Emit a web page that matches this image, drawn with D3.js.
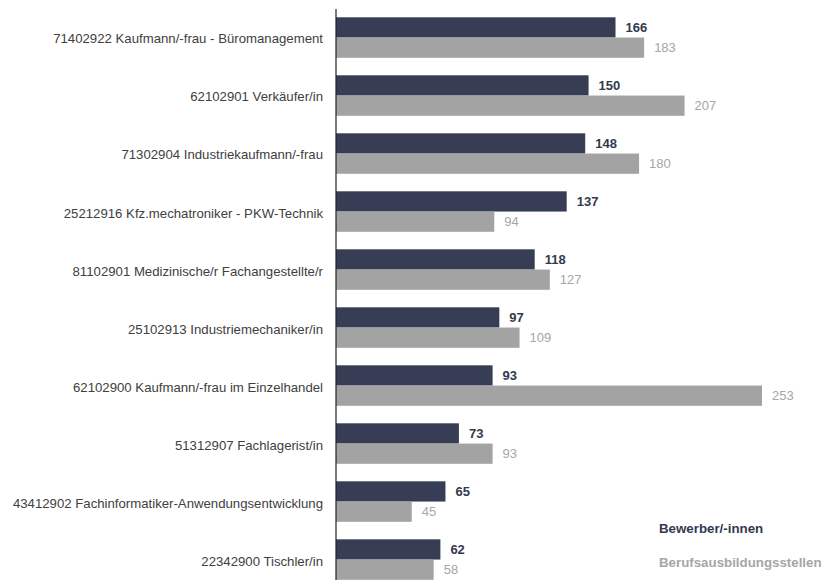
<!DOCTYPE html>
<html>
<head>
<meta charset="utf-8">
<script src="https://cdn.jsdelivr.net/npm/d3@7"></script>
<style>
  html, body { margin: 0; padding: 0; background: #fff; }
  svg { display: block; font-family: "Liberation Sans", Arial, sans-serif; }
</style>
</head>
<body>
<svg id="chart"></svg>
<script>
// DATA
const categories = [
  "71402922 Kaufmann/-frau - Büromanagement",
  "62102901 Verkäufer/in",
  "71302904 Industriekaufmann/-frau",
  "25212916 Kfz.mechatroniker - PKW-Technik",
  "81102901 Medizinische/r Fachangestellte/r",
  "25102913 Industriemechaniker/in",
  "62102900 Kaufmann/-frau im Einzelhandel",
  "51312907 Fachlagerist/in",
  "43412902 Fachinformatiker-Anwendungsentwicklung",
  "22342900 Tischler/in"
];
const bewerber = [166, 150, 148, 137, 118, 97, 93, 73, 65, 62];
const stellen = [183, 207, 180, 94, 127, 109, 253, 93, 45, 58];
const seriesNames = ["Bewerber/-innen", "Berufsausbildungsstellen"];

const width = 825, height = 580;
const darkColor = "#363d54";
const grayColor = "#a3a3a3";
const darkText = "#333a4f";
const grayText = "#a6a6a6";

const svg = d3.select("#chart").attr("width", width).attr("height", height);

const x = d3.scaleLinear().domain([0, 253]).range([336, 762]);

const y = d3.scaleBand()
  .domain(categories)
  .range([8.6, 588.5])
  .paddingInner(0.302)
  .paddingOuter(0.15);

const half = y.bandwidth() / 2;

const rows = categories.map((c, i) => ({ cat: c, a: bewerber[i], b: stellen[i] }));

const g = svg.append("g");

// Bewerber bars
g.selectAll(".bar-a")
  .data(rows)
  .enter()
  .append("rect")
  .attr("class", "bar-a")
  .attr("x", x(0))
  .attr("y", d => y(d.cat))
  .attr("width", d => x(d.a) - x(0))
  .attr("height", half)
  .attr("fill", darkColor);

// Stellen bars
g.selectAll(".bar-b")
  .data(rows)
  .enter()
  .append("rect")
  .attr("class", "bar-b")
  .attr("x", x(0))
  .attr("y", d => y(d.cat) + half)
  .attr("width", d => x(d.b) - x(0))
  .attr("height", half)
  .attr("fill", grayColor);

// value labels
g.selectAll(".val-a")
  .data(rows)
  .enter()
  .append("text")
  .attr("x", d => x(d.a) + 10)
  .attr("y", d => y(d.cat) + half / 2)
  .attr("dy", "0.35em")
  .attr("fill", darkText)
  .style("font-size", "13px")
  .style("font-weight", "bold")
  .text(d => d.a);

g.selectAll(".val-b")
  .data(rows)
  .enter()
  .append("text")
  .attr("x", d => x(d.b) + 10)
  .attr("y", d => y(d.cat) + half * 1.5)
  .attr("dy", "0.35em")
  .attr("fill", grayText)
  .style("font-size", "13px")
  .text(d => d.b);

// axis (no ticks, just the line + labels)
const axis = svg.append("g")
  .attr("transform", `translate(${x(0)},0)`)
  .call(d3.axisLeft(y).tickSize(0).tickPadding(13));
axis.select(".domain")
  .attr("d", `M0,9V${height}`)
  .attr("stroke", "#222")
  .attr("stroke-width", 1.2);
axis.selectAll(".tick text")
  .attr("fill", "#404040")
  .attr("dy", "0.45em")
  .style("font-size", "13.2px")
  .style("font-family", "\"Liberation Sans\", Arial, sans-serif");

// legend
const legend = svg.append("g").attr("transform", "translate(659,0)");
legend.selectAll("text")
  .data(seriesNames)
  .enter()
  .append("text")
  .attr("x", 0)
  .attr("y", (d, i) => 528 + i * 34)
  .attr("dy", "0.35em")
  .attr("fill", (d, i) => i === 0 ? darkText : grayText)
  .style("font-size", "13.3px")
  .style("font-weight", "bold")
  .text(d => d);
</script>
</body>
</html>
